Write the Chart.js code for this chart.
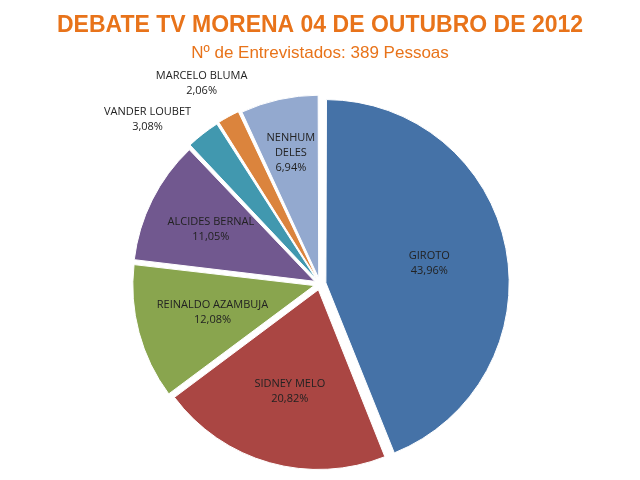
<!DOCTYPE html><html><head><meta charset="utf-8">
<script src="https://cdn.jsdelivr.net/npm/chart.js@4"></script>
<style>html,body{margin:0;background:#fff}#c{width:640px;height:480px}</style></head><body>
<div id="c"><canvas id="cv" width="640" height="480"></canvas></div>
<script>
const categories=["GIROTO","SIDNEY MELO","REINALDO AZAMBUJA","ALCIDES BERNAL","VANDER LOUBET","MARCELO BLUMA","NENHUM\nDELES"];
const values=[43.96,20.82,12.08,11.05,3.08,2.06,6.94];
const labelsPct=["43,96%","20,82%","12,08%","11,05%","3,08%","2,06%","6,94%"];
const colors=["#4572A7","#AA4643","#89A54E","#71588F","#4198AF","#DB843D","#93A9CF"];
const labelPlugin={id:'lbl',afterDatasetsDraw(chart){
 const ctx=chart.ctx;const meta=chart.getDatasetMeta(0);
 ctx.save();ctx.font='11px "Open Sans", sans-serif';ctx.fillStyle='#222';ctx.textAlign='center';ctx.textBaseline='middle';
 meta.data.forEach((a,i)=>{
  const p=a.getProps(['x','y','startAngle','endAngle','outerRadius'],true);
  const mid=(p.startAngle+p.endAngle)/2;
  let r=p.outerRadius*(i>=4&&i<=5?1.2:0.62);
  if(i==6) r=p.outerRadius*0.75;
  if(i==3) r=p.outerRadius*0.68;
  let x=p.x+Math.cos(mid)*r,y=p.y+Math.sin(mid)*r;
  if(i==4){x-=40;y+=5;} if(i==5){x-=15;y-=12;}
  const lines=categories[i].split("\n").concat([labelsPct[i]]);
  lines.forEach((t,k)=>ctx.fillText(t,x,y+(k-(lines.length-1)/2)*15));
 });ctx.restore();}};
new Chart(document.getElementById('cv'),{type:'pie',
 data:{labels:categories,datasets:[{data:values,backgroundColor:colors,borderColor:'#fff',borderWidth:1,offset:24}]},
 options:{responsive:false,animation:false,layout:{padding:{top:0,bottom:4,left:0,right:0}},
  plugins:{legend:{display:false},tooltip:{enabled:false},
   title:{display:true,text:"DEBATE TV MORENA 04 DE OUTUBRO DE 2012",color:'#E8731A',font:{family:'Liberation Sans',size:23,weight:'bold'},padding:{top:12,bottom:4}},
   subtitle:{display:true,text:"Nº de Entrevistados: 389 Pessoas",color:'#E8731A',font:{family:'Liberation Sans',size:17},padding:{bottom:28}}}},
 plugins:[labelPlugin]});
</script></body></html>
